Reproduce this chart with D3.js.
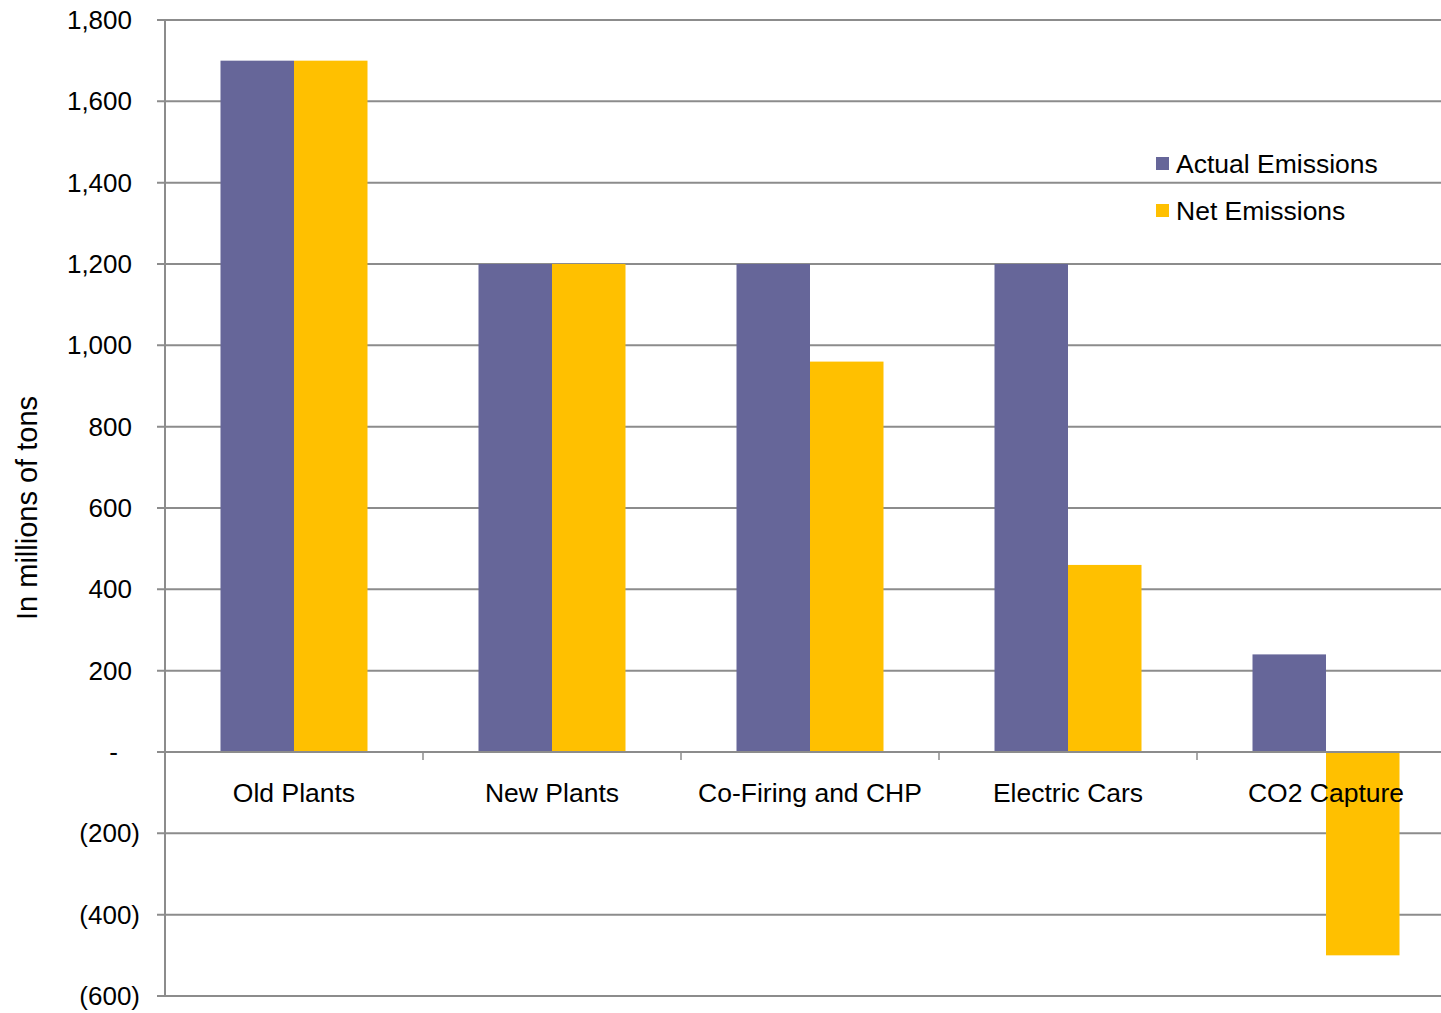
<!DOCTYPE html>
<html><head><meta charset="utf-8">
<script src="https://cdn.jsdelivr.net/npm/d3@7"></script>
<style>body{margin:0;background:#fff}svg{display:block}text{font-family:"Liberation Sans",Arial,sans-serif;fill:#000}</style>
</head><body><svg id="c" width="1441" height="1013"></svg>
<script>
const categories = ["Old Plants","New Plants","Co-Firing and CHP","Electric Cars","CO2 Capture"];
const seriesNames = ["Actual Emissions","Net Emissions"];
const actualEmissions = [1700,1200,1200,1200,240];
const netEmissions = [1700,1200,960,460,-500];
const yTicks = [-600,-400,-200,0,200,400,600,800,1000,1200,1400,1600,1800];
const colors = ["#666699","#FFC000"];

(function(){
const svg = d3.select("#c");
const pLeft = 165, pRight = 1455, pTop = 20, pBottom = 996;
const x0 = d3.scaleBand().domain(categories).range([pLeft, pRight]).paddingInner(0).paddingOuter(0);
const x1 = d3.scaleBand().domain(seriesNames).range([55.5, 202.5]);
const y = d3.scaleLinear().domain([-600,1800]).range([pBottom, pTop]);
const fmt = v => v === 0 ? "-" : (v < 0 ? "(" + d3.format(",")(-v) + ")" : d3.format(",")(v));
const grid = "#8c8c8c";

svg.append("g").selectAll("line").data(yTicks).join("line")
  .attr("x1", pLeft - 8).attr("x2", 1441).attr("y1", d => y(d)).attr("y2", d => y(d))
  .attr("stroke", grid).attr("stroke-width", 2);

const data = categories.map((c,i)=>({c, vals:[actualEmissions[i], netEmissions[i]]}));
const g = svg.append("g").selectAll("g").data(data).join("g")
  .attr("transform", d => `translate(${x0(d.c)},0)`);
g.selectAll("rect").data(d => d.vals.map((v,j)=>({v, s:seriesNames[j], j}))).join("rect")
  .attr("x", d => x1(d.s)).attr("width", x1.bandwidth())
  .attr("y", d => y(Math.max(0,d.v))).attr("height", d => Math.abs(y(d.v)-y(0)))
  .attr("fill", d => colors[d.j]);

svg.append("line").attr("x1", pLeft-8).attr("x2", 1441).attr("y1", y(0)).attr("y2", y(0)).attr("stroke", grid).attr("stroke-width", 2);
svg.append("g").selectAll("line").data(categories.slice(1)).join("line")
  .attr("x1", d => x0(d)).attr("x2", d => x0(d)).attr("y1", y(0)).attr("y2", y(0)+8)
  .attr("stroke", grid).attr("stroke-width", 1.5);
svg.append("line").attr("x1", pLeft).attr("x2", pLeft).attr("y1", pTop).attr("y2", pBottom).attr("stroke", grid).attr("stroke-width", 2);

svg.append("g").selectAll("text").data(yTicks).join("text")
  .attr("x", d => d < 0 ? 140 : (d === 0 ? 118 : 132))
  .attr("y", d => y(d)).attr("dy", "0.35em").attr("text-anchor", "end")
  .attr("font-size", 26).text(fmt);

svg.append("g").selectAll("text").data(categories).join("text")
  .attr("x", d => x0(d) + x0.bandwidth()/2).attr("y", y(0) + 41).attr("dy", "0.35em")
  .attr("text-anchor", "middle").attr("font-size", 26.5).text(d => d);

svg.append("text").attr("transform", `translate(37,508) rotate(-90)`)
  .attr("text-anchor", "middle").attr("font-size", 29).text("In millions of tons");

const lg = svg.append("g").selectAll("g").data(seriesNames).join("g")
  .attr("transform", (d,i) => `translate(1156,${157 + i*47})`);
lg.append("rect").attr("width", 13).attr("height", 13).attr("fill", (d,i) => colors[i]);
lg.append("text").attr("x", 20).attr("y", 6.5).attr("dy", "0.35em").attr("font-size", 26.5).text(d => d);
})();
</script></body></html>
